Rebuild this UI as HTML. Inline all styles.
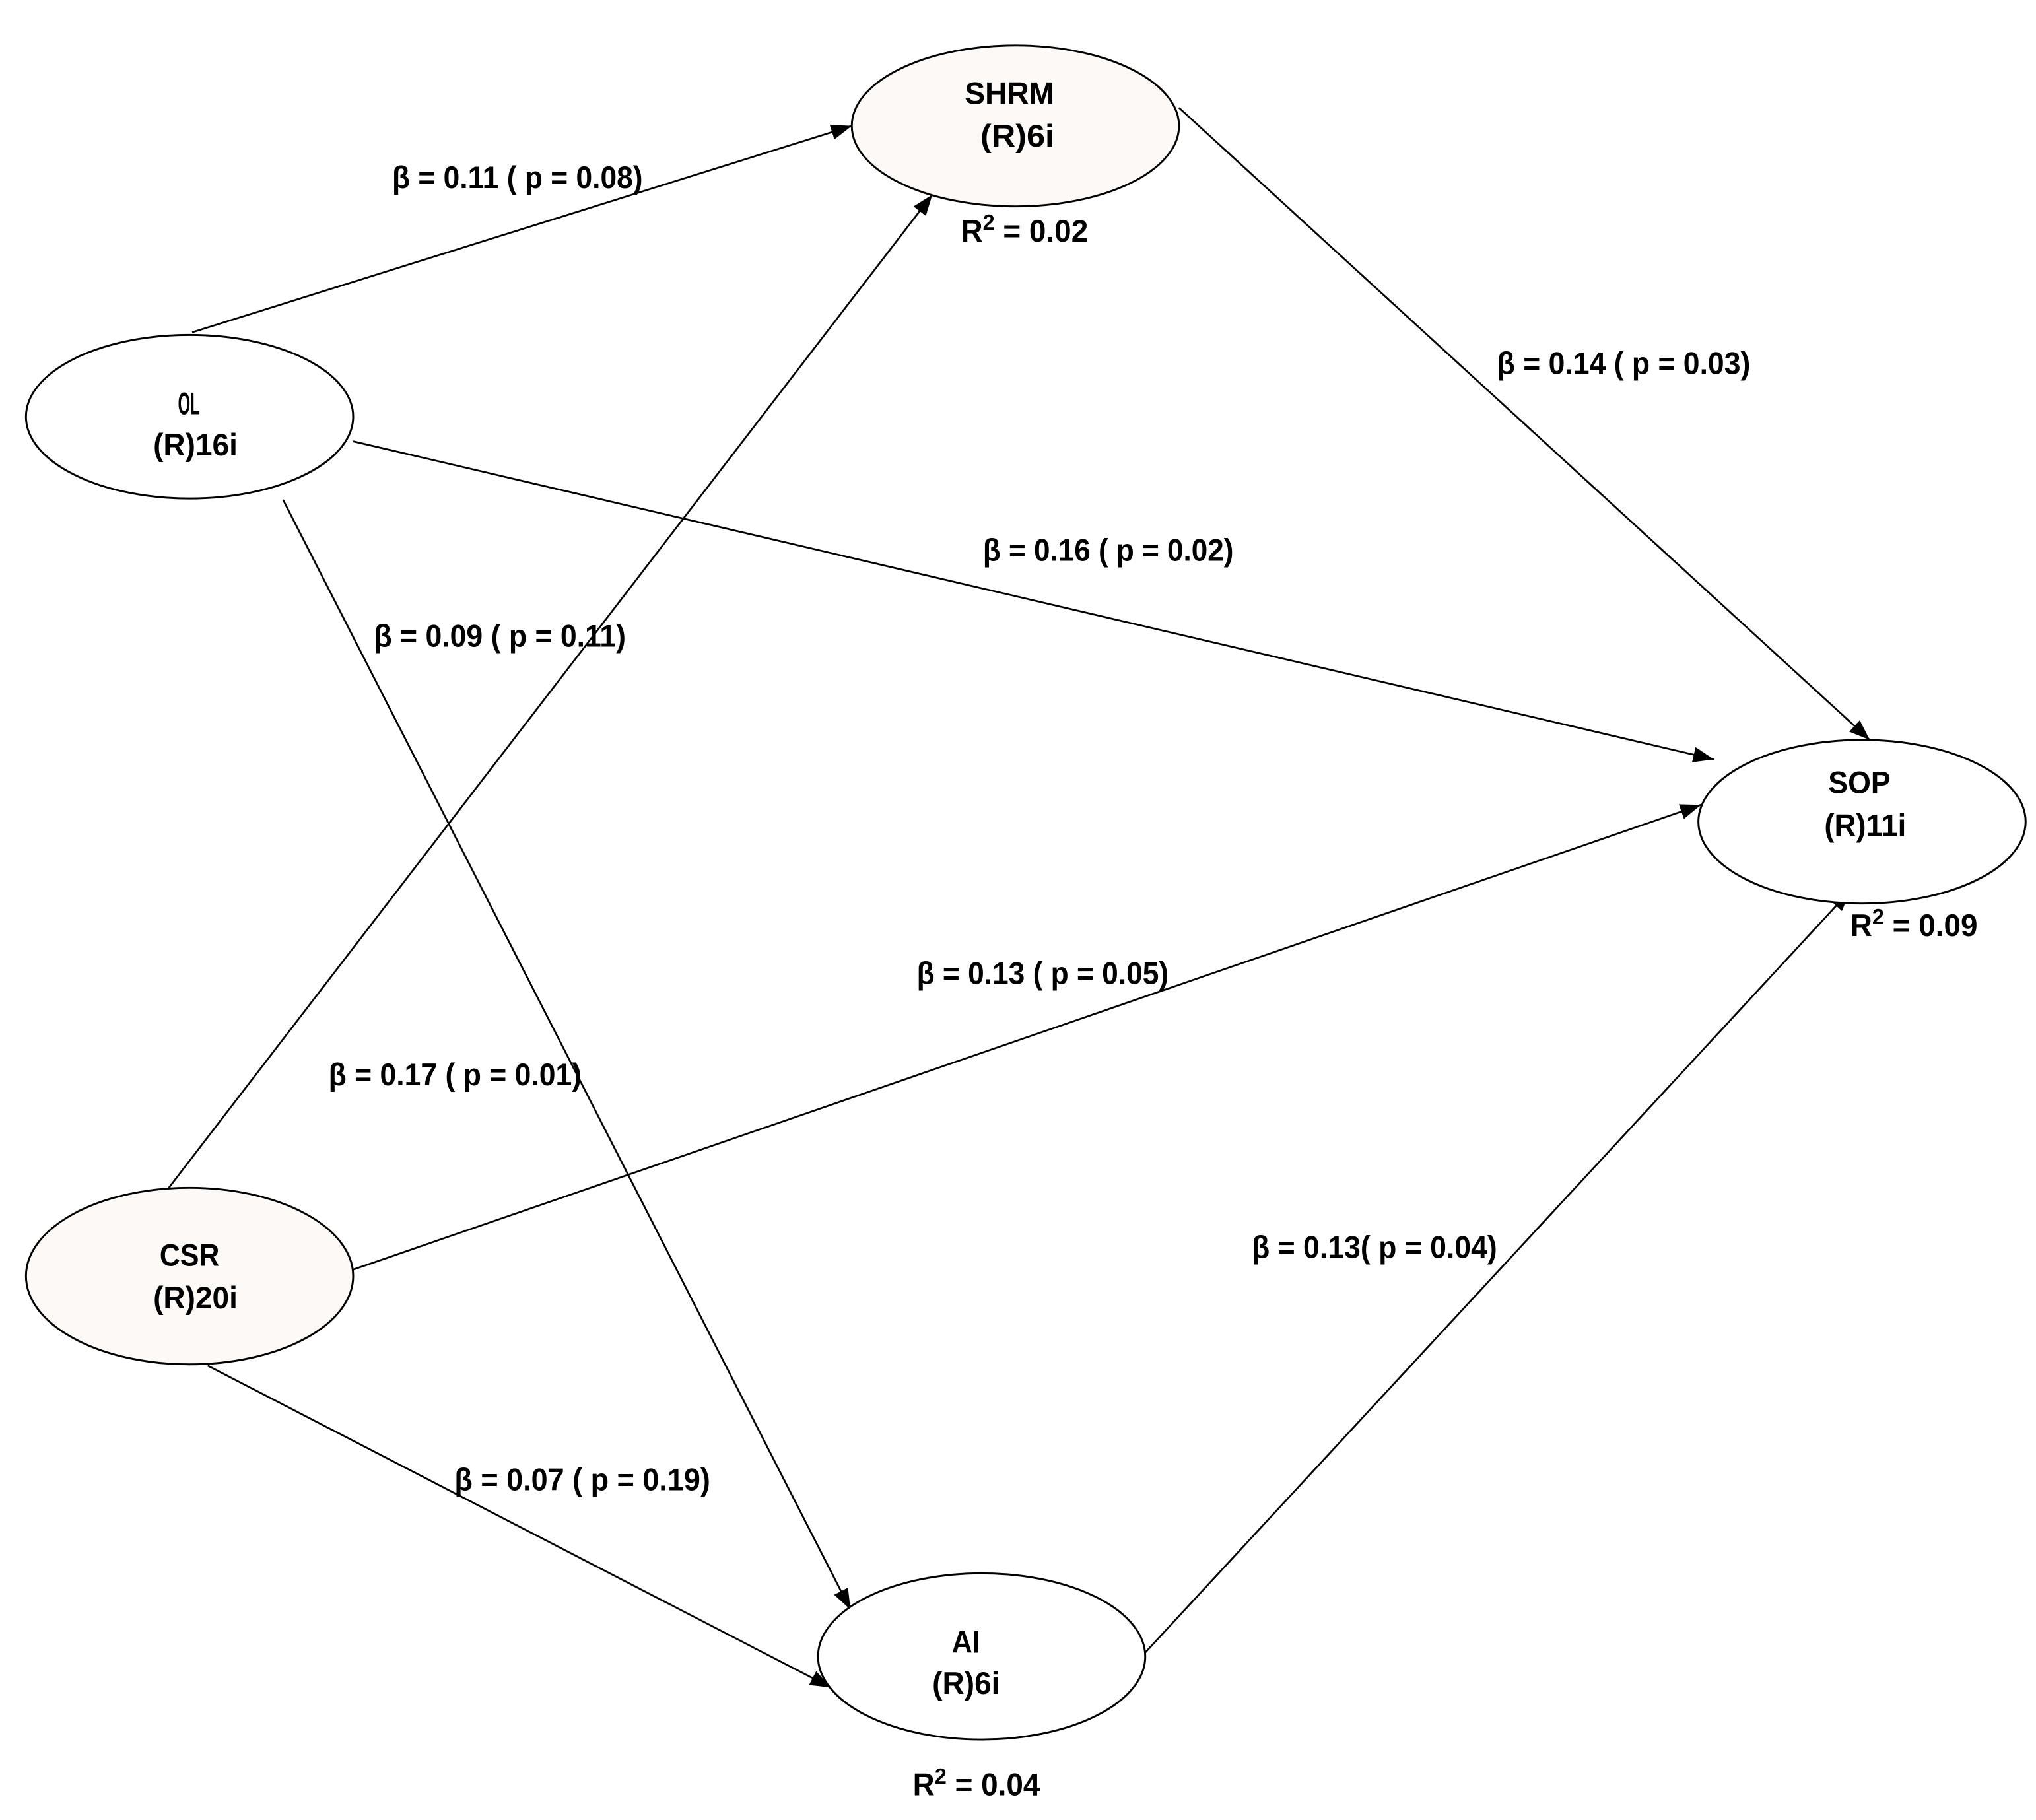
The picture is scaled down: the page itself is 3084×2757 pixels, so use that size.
<!DOCTYPE html>
<html><head><meta charset="utf-8"><style>html,body{margin:0;padding:0;background:#fff}svg{display:block}</style></head>
<body>
<svg width="3084" height="2757" viewBox="0 0 1568 1402" preserveAspectRatio="none" xmlns="http://www.w3.org/2000/svg">
<defs>
<marker id="a" viewBox="0 0 16 12" refX="16" refY="6" markerWidth="16" markerHeight="12" markerUnits="userSpaceOnUse" orient="auto">
<path d="M0,0 L16,6 L0,12 Z" fill="#000"/>
</marker>
</defs>
<g stroke="#000" stroke-width="1.4" fill="none">
<line x1="148" y1="256" x2="656" y2="97" marker-end="url(#a)"/>
<line x1="908" y1="83" x2="1440" y2="570" marker-end="url(#a)"/>
<line x1="272" y1="340" x2="1320" y2="585" marker-end="url(#a)"/>
<line x1="218" y1="385" x2="655" y2="1240" marker-end="url(#a)"/>
<line x1="130" y1="915" x2="718" y2="150" marker-end="url(#a)"/>
<line x1="272" y1="978" x2="1310" y2="620" marker-end="url(#a)"/>
<line x1="160" y1="1052" x2="640" y2="1300" marker-end="url(#a)"/>
<line x1="882" y1="1273" x2="1425" y2="686" marker-end="url(#a)"/>
</g>
<g stroke="#000" stroke-width="1.5">
<ellipse cx="782" cy="97" rx="126" ry="62" fill="#fdf9f7"/>
<ellipse cx="146" cy="321" rx="126" ry="63" fill="#fff"/>
<ellipse cx="1434" cy="633" rx="126" ry="63" fill="#fff"/>
<ellipse cx="146" cy="983" rx="126" ry="68" fill="#fdf9f7"/>
<ellipse cx="756" cy="1276" rx="126" ry="64" fill="#fff"/>
</g>
<g font-family="Liberation Sans, sans-serif" font-weight="bold" font-size="24" fill="#000" lengthAdjust="spacingAndGlyphs">
<text x="302" y="145" textLength="193" lengthAdjust="spacingAndGlyphs">β = 0.11 ( p = 0.08)</text>
<text x="743" y="80" textLength="69" lengthAdjust="spacingAndGlyphs">SHRM</text>
<text x="755" y="113" textLength="57" lengthAdjust="spacingAndGlyphs">(R)6i</text>
<text x="740" y="186" textLength="98" lengthAdjust="spacingAndGlyphs">R<tspan font-size="17" dy="-9">2</tspan><tspan dy="9"> = 0.02</tspan></text>
<text x="1153" y="288" textLength="195" lengthAdjust="spacingAndGlyphs">β = 0.14 ( p = 0.03)</text>
<text x="137" y="319" textLength="17" lengthAdjust="spacingAndGlyphs">OL</text>
<text x="118" y="351" textLength="65" lengthAdjust="spacingAndGlyphs">(R)16i</text>
<text x="757" y="432" textLength="193" lengthAdjust="spacingAndGlyphs">β = 0.16 ( p = 0.02)</text>
<text x="288" y="498" textLength="194" lengthAdjust="spacingAndGlyphs">β = 0.09 ( p = 0.11)</text>
<text x="1408" y="611" textLength="48" lengthAdjust="spacingAndGlyphs">SOP</text>
<text x="1405" y="644" textLength="63" lengthAdjust="spacingAndGlyphs">(R)11i</text>
<text x="1425" y="721" textLength="98" lengthAdjust="spacingAndGlyphs">R<tspan font-size="17" dy="-9">2</tspan><tspan dy="9"> = 0.09</tspan></text>
<text x="706" y="758" textLength="194" lengthAdjust="spacingAndGlyphs">β = 0.13 ( p = 0.05)</text>
<text x="253" y="836" textLength="195" lengthAdjust="spacingAndGlyphs">β = 0.17 ( p = 0.01)</text>
<text x="123" y="975" textLength="46" lengthAdjust="spacingAndGlyphs">CSR</text>
<text x="118" y="1008" textLength="65" lengthAdjust="spacingAndGlyphs">(R)20i</text>
<text x="964" y="969" textLength="189" lengthAdjust="spacingAndGlyphs">β = 0.13( p = 0.04)</text>
<text x="350" y="1148" textLength="197" lengthAdjust="spacingAndGlyphs">β = 0.07 ( p = 0.19)</text>
<text x="733" y="1273" textLength="22" lengthAdjust="spacingAndGlyphs">AI</text>
<text x="718" y="1305" textLength="52" lengthAdjust="spacingAndGlyphs">(R)6i</text>
<text x="703" y="1383" textLength="98" lengthAdjust="spacingAndGlyphs">R<tspan font-size="17" dy="-9">2</tspan><tspan dy="9"> = 0.04</tspan></text>
</g>
</svg>
</body></html>
